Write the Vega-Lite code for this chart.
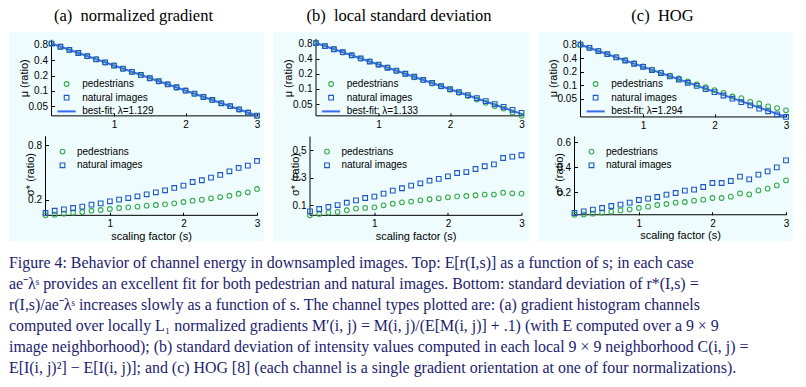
{
"$schema":"https://vega.github.io/schema/vega-lite/v6.json",
"padding":{"left":9,"top":7,"right":0,"bottom":0},
"background":"white",
"config":{
 "view":{"fill":"#eefcfd","stroke":null},
 "axis":{"domain":false,"grid":false,"ticks":true,"tickSize":-3,"tickColor":"black","tickWidth":1,"labelFont":"Liberation Sans","labelFontSize":10,"labelColor":"black","labelPadding":7,"labelOverlap":false,"labelFlush":false,"titleFont":"Liberation Sans","titleFontSize":11,"titleFontWeight":"normal","titleColor":"black","titleBaseline":"middle"},
 "axisX":{"labelPadding":6.5,"labelFlush":false},
 "legend":{"labelFont":"Liberation Sans","labelFontSize":10,"labelColor":"black","padding":0,"rowPadding":3.7,"symbolStrokeWidth":1.1,"symbolSize":22,"orient":"none"}
},
"datasets":{
"fit":[{"p":"a","s":0.125,"mu":0.842},{"p":"a","s":3,"mu":0.0328},{"p":"b","s":0.125,"mu":0.825},{"p":"b","s":3,"mu":0.0318},{"p":"c","s":0.125,"mu":0.8},{"p":"c","s":3,"mu":0.0196}],
"pts":[
{"p":"a","s":0.125,"series":"pedestrians","mu":0.845,"sigma":0.027},
{"p":"a","s":0.25,"series":"pedestrians","mu":0.735,"sigma":0.034},
{"p":"a","s":0.375,"series":"pedestrians","mu":0.632,"sigma":0.045},
{"p":"a","s":0.5,"series":"pedestrians","mu":0.555,"sigma":0.056},
{"p":"a","s":0.625,"series":"pedestrians","mu":0.476,"sigma":0.064},
{"p":"a","s":0.75,"series":"pedestrians","mu":0.418,"sigma":0.078},
{"p":"a","s":0.875,"series":"pedestrians","mu":0.358,"sigma":0.086},
{"p":"a","s":1,"series":"pedestrians","mu":0.316,"sigma":0.097},
{"p":"a","s":1.125,"series":"pedestrians","mu":0.27,"sigma":0.108},
{"p":"a","s":1.25,"series":"pedestrians","mu":0.239,"sigma":0.115},
{"p":"a","s":1.375,"series":"pedestrians","mu":0.203,"sigma":0.123},
{"p":"a","s":1.5,"series":"pedestrians","mu":0.18,"sigma":0.134},
{"p":"a","s":1.625,"series":"pedestrians","mu":0.153,"sigma":0.141},
{"p":"a","s":1.75,"series":"pedestrians","mu":0.136,"sigma":0.148},
{"p":"a","s":1.875,"series":"pedestrians","mu":0.116,"sigma":0.159},
{"p":"a","s":2,"series":"pedestrians","mu":0.102,"sigma":0.174},
{"p":"a","s":2.125,"series":"pedestrians","mu":0.0875,"sigma":0.189},
{"p":"a","s":2.25,"series":"pedestrians","mu":0.077,"sigma":0.2},
{"p":"a","s":2.375,"series":"pedestrians","mu":0.066,"sigma":0.215},
{"p":"a","s":2.5,"series":"pedestrians","mu":0.058,"sigma":0.229},
{"p":"a","s":2.625,"series":"pedestrians","mu":0.0505,"sigma":0.244},
{"p":"a","s":2.75,"series":"pedestrians","mu":0.0432,"sigma":0.266},
{"p":"a","s":2.875,"series":"pedestrians","mu":0.038,"sigma":0.281},
{"p":"a","s":3,"series":"pedestrians","mu":0.0326,"sigma":0.318},
{"p":"a","s":0.125,"series":"natural images","mu":0.842,"sigma":0.053},
{"p":"a","s":0.25,"series":"natural images","mu":0.73,"sigma":0.078},
{"p":"a","s":0.375,"series":"natural images","mu":0.636,"sigma":0.093},
{"p":"a","s":0.5,"series":"natural images","mu":0.551,"sigma":0.108},
{"p":"a","s":0.625,"series":"natural images","mu":0.48,"sigma":0.123},
{"p":"a","s":0.75,"series":"natural images","mu":0.415,"sigma":0.145},
{"p":"a","s":0.875,"series":"natural images","mu":0.362,"sigma":0.159},
{"p":"a","s":1,"series":"natural images","mu":0.313,"sigma":0.182},
{"p":"a","s":1.125,"series":"natural images","mu":0.273,"sigma":0.2},
{"p":"a","s":1.25,"series":"natural images","mu":0.236,"sigma":0.218},
{"p":"a","s":1.375,"series":"natural images","mu":0.206,"sigma":0.237},
{"p":"a","s":1.5,"series":"natural images","mu":0.177,"sigma":0.259},
{"p":"a","s":1.625,"series":"natural images","mu":0.156,"sigma":0.281},
{"p":"a","s":1.75,"series":"natural images","mu":0.134,"sigma":0.303},
{"p":"a","s":1.875,"series":"natural images","mu":0.118,"sigma":0.329},
{"p":"a","s":2,"series":"natural images","mu":0.101,"sigma":0.355},
{"p":"a","s":2.125,"series":"natural images","mu":0.0885,"sigma":0.395},
{"p":"a","s":2.25,"series":"natural images","mu":0.0762,"sigma":0.414},
{"p":"a","s":2.375,"series":"natural images","mu":0.0667,"sigma":0.443},
{"p":"a","s":2.5,"series":"natural images","mu":0.0574,"sigma":0.473},
{"p":"a","s":2.625,"series":"natural images","mu":0.0503,"sigma":0.513},
{"p":"a","s":2.75,"series":"natural images","mu":0.0438,"sigma":0.55},
{"p":"a","s":2.875,"series":"natural images","mu":0.0376,"sigma":0.576},
{"p":"a","s":3,"series":"natural images","mu":0.033,"sigma":0.627},
{"p":"b","s":0.125,"series":"pedestrians","mu":0.828,"sigma":0.027},
{"p":"b","s":0.25,"series":"pedestrians","mu":0.714,"sigma":0.037},
{"p":"b","s":0.375,"series":"pedestrians","mu":0.623,"sigma":0.047},
{"p":"b","s":0.5,"series":"pedestrians","mu":0.536,"sigma":0.052},
{"p":"b","s":0.625,"series":"pedestrians","mu":0.47,"sigma":0.064},
{"p":"b","s":0.75,"series":"pedestrians","mu":0.403,"sigma":0.076},
{"p":"b","s":0.875,"series":"pedestrians","mu":0.355,"sigma":0.081},
{"p":"b","s":1,"series":"pedestrians","mu":0.303,"sigma":0.085},
{"p":"b","s":1.125,"series":"pedestrians","mu":0.267,"sigma":0.1},
{"p":"b","s":1.25,"series":"pedestrians","mu":0.228,"sigma":0.112},
{"p":"b","s":1.375,"series":"pedestrians","mu":0.199,"sigma":0.122},
{"p":"b","s":1.5,"series":"pedestrians","mu":0.171,"sigma":0.127},
{"p":"b","s":1.625,"series":"pedestrians","mu":0.15,"sigma":0.136},
{"p":"b","s":1.75,"series":"pedestrians","mu":0.129,"sigma":0.144},
{"p":"b","s":1.875,"series":"pedestrians","mu":0.112,"sigma":0.151},
{"p":"b","s":2,"series":"pedestrians","mu":0.0965,"sigma":0.158},
{"p":"b","s":2.125,"series":"pedestrians","mu":0.0835,"sigma":0.165},
{"p":"b","s":2.25,"series":"pedestrians","mu":0.072,"sigma":0.168},
{"p":"b","s":2.375,"series":"pedestrians","mu":0.0615,"sigma":0.173},
{"p":"b","s":2.5,"series":"pedestrians","mu":0.0528,"sigma":0.178},
{"p":"b","s":2.625,"series":"pedestrians","mu":0.0455,"sigma":0.178},
{"p":"b","s":2.75,"series":"pedestrians","mu":0.0405,"sigma":0.192},
{"p":"b","s":2.875,"series":"pedestrians","mu":0.034,"sigma":0.187},
{"p":"b","s":3,"series":"pedestrians","mu":0.029,"sigma":0.185},
{"p":"b","s":0.125,"series":"natural images","mu":0.825,"sigma":0.056},
{"p":"b","s":0.25,"series":"natural images","mu":0.718,"sigma":0.073},
{"p":"b","s":0.375,"series":"natural images","mu":0.62,"sigma":0.088},
{"p":"b","s":0.5,"series":"natural images","mu":0.541,"sigma":0.102},
{"p":"b","s":0.625,"series":"natural images","mu":0.466,"sigma":0.119},
{"p":"b","s":0.75,"series":"natural images","mu":0.408,"sigma":0.136},
{"p":"b","s":0.875,"series":"natural images","mu":0.352,"sigma":0.153},
{"p":"b","s":1,"series":"natural images","mu":0.307,"sigma":0.163},
{"p":"b","s":1.125,"series":"natural images","mu":0.265,"sigma":0.185},
{"p":"b","s":1.25,"series":"natural images","mu":0.232,"sigma":0.207},
{"p":"b","s":1.375,"series":"natural images","mu":0.201,"sigma":0.224},
{"p":"b","s":1.5,"series":"natural images","mu":0.175,"sigma":0.243},
{"p":"b","s":1.625,"series":"natural images","mu":0.151,"sigma":0.26},
{"p":"b","s":1.75,"series":"natural images","mu":0.132,"sigma":0.279},
{"p":"b","s":1.875,"series":"natural images","mu":0.114,"sigma":0.292},
{"p":"b","s":2,"series":"natural images","mu":0.0995,"sigma":0.311},
{"p":"b","s":2.125,"series":"natural images","mu":0.0865,"sigma":0.335},
{"p":"b","s":2.25,"series":"natural images","mu":0.0752,"sigma":0.342},
{"p":"b","s":2.375,"series":"natural images","mu":0.0655,"sigma":0.364},
{"p":"b","s":2.5,"series":"natural images","mu":0.057,"sigma":0.384},
{"p":"b","s":2.625,"series":"natural images","mu":0.0498,"sigma":0.398},
{"p":"b","s":2.75,"series":"natural images","mu":0.044,"sigma":0.444},
{"p":"b","s":2.875,"series":"natural images","mu":0.0383,"sigma":0.454},
{"p":"b","s":3,"series":"natural images","mu":0.0332,"sigma":0.464},
{"p":"c","s":0.125,"series":"pedestrians","mu":0.8,"sigma":0.018},
{"p":"c","s":0.25,"series":"pedestrians","mu":0.682,"sigma":0.021},
{"p":"c","s":0.375,"series":"pedestrians","mu":0.582,"sigma":0.027},
{"p":"c","s":0.5,"series":"pedestrians","mu":0.495,"sigma":0.035},
{"p":"c","s":0.625,"series":"pedestrians","mu":0.423,"sigma":0.043},
{"p":"c","s":0.75,"series":"pedestrians","mu":0.36,"sigma":0.053},
{"p":"c","s":0.875,"series":"pedestrians","mu":0.306,"sigma":0.061},
{"p":"c","s":1,"series":"pedestrians","mu":0.262,"sigma":0.072},
{"p":"c","s":1.125,"series":"pedestrians","mu":0.223,"sigma":0.083},
{"p":"c","s":1.25,"series":"pedestrians","mu":0.191,"sigma":0.096},
{"p":"c","s":1.375,"series":"pedestrians","mu":0.164,"sigma":0.104},
{"p":"c","s":1.5,"series":"pedestrians","mu":0.141,"sigma":0.115},
{"p":"c","s":1.625,"series":"pedestrians","mu":0.121,"sigma":0.12},
{"p":"c","s":1.75,"series":"pedestrians","mu":0.104,"sigma":0.131},
{"p":"c","s":1.875,"series":"pedestrians","mu":0.09,"sigma":0.139},
{"p":"c","s":2,"series":"pedestrians","mu":0.078,"sigma":0.152},
{"p":"c","s":2.125,"series":"pedestrians","mu":0.0675,"sigma":0.152},
{"p":"c","s":2.25,"series":"pedestrians","mu":0.0562,"sigma":0.163},
{"p":"c","s":2.375,"series":"pedestrians","mu":0.0515,"sigma":0.189},
{"p":"c","s":2.5,"series":"pedestrians","mu":0.0425,"sigma":0.181},
{"p":"c","s":2.625,"series":"pedestrians","mu":0.0392,"sigma":0.213},
{"p":"c","s":2.75,"series":"pedestrians","mu":0.0338,"sigma":0.227},
{"p":"c","s":2.875,"series":"pedestrians","mu":0.031,"sigma":0.253},
{"p":"c","s":3,"series":"pedestrians","mu":0.0276,"sigma":0.293},
{"p":"c","s":0.125,"series":"natural images","mu":0.8,"sigma":0.032},
{"p":"c","s":0.25,"series":"natural images","mu":0.679,"sigma":0.045},
{"p":"c","s":0.375,"series":"natural images","mu":0.577,"sigma":0.059},
{"p":"c","s":0.5,"series":"natural images","mu":0.491,"sigma":0.072},
{"p":"c","s":0.625,"series":"natural images","mu":0.418,"sigma":0.088},
{"p":"c","s":0.75,"series":"natural images","mu":0.355,"sigma":0.099},
{"p":"c","s":0.875,"series":"natural images","mu":0.301,"sigma":0.115},
{"p":"c","s":1,"series":"natural images","mu":0.257,"sigma":0.136},
{"p":"c","s":1.125,"series":"natural images","mu":0.218,"sigma":0.147},
{"p":"c","s":1.25,"series":"natural images","mu":0.186,"sigma":0.16},
{"p":"c","s":1.375,"series":"natural images","mu":0.157,"sigma":0.179},
{"p":"c","s":1.5,"series":"natural images","mu":0.134,"sigma":0.192},
{"p":"c","s":1.625,"series":"natural images","mu":0.113,"sigma":0.211},
{"p":"c","s":1.75,"series":"natural images","mu":0.0965,"sigma":0.219},
{"p":"c","s":1.875,"series":"natural images","mu":0.082,"sigma":0.24},
{"p":"c","s":2,"series":"natural images","mu":0.07,"sigma":0.272},
{"p":"c","s":2.125,"series":"natural images","mu":0.059,"sigma":0.272},
{"p":"c","s":2.25,"series":"natural images","mu":0.05,"sigma":0.288},
{"p":"c","s":2.375,"series":"natural images","mu":0.0418,"sigma":0.323},
{"p":"c","s":2.5,"series":"natural images","mu":0.0355,"sigma":0.301},
{"p":"c","s":2.625,"series":"natural images","mu":0.03,"sigma":0.339},
{"p":"c","s":2.75,"series":"natural images","mu":0.0262,"sigma":0.365},
{"p":"c","s":2.875,"series":"natural images","mu":0.0224,"sigma":0.397},
{"p":"c","s":3,"series":"natural images","mu":0.0196,"sigma":0.453}
]},
"title":{"text":[
"Figure 4: Behavior of channel energy in downsampled images. Top: E[r(I,s)] as a function of s; in each case",
"ae⁻λˢ provides an excellent fit for both pedestrian and natural images. Bottom: standard deviation of r*(I,s) =",
"r(I,s)/ae⁻λˢ increases slowly as a function of s. The channel types plotted are: (a) gradient histogram channels",
"computed over locally L₁ normalized gradients M′(i, j) = M(i, j)/(E[M(i, j)] + .1) (with E computed over a 9 × 9",
"image neighborhood); (b) standard deviation of intensity values computed in each local 9 × 9 neighborhood C(i, j) =",
"E[I(i, j)²] − E[I(i, j)]; and (c) HOG [8] (each channel is a single gradient orientation at one of four normalizations)."
],"orient":"bottom","anchor":"start","frame":"group","font":"Liberation Serif","fontSize":15.9,"fontWeight":"normal","color":"#1c1c6e","lineHeight":21,"offset":14},
"spacing":9.5,
"resolve":{"scale":{"x":"independent","y":"independent","color":"independent","shape":"independent"},"legend":{"color":"independent","shape":"independent"}},
"hconcat":[
{"vconcat":[
 {"width":255,"height":99,
  "title":{"text":"(a)\u2002normalized gradient","font":"Liberation Serif","fontSize":16.5,"fontWeight":"normal","color":"black","offset":8,"anchor":"middle","dx":-3},
  "layer":[
   {"data":{"values":[{}]},"mark":{"type":"rule","color":"black","strokeWidth":1},
    "encoding":{"x":{"datum":0.125,"scale":{"domain":[-0.4696,3.0979],"nice":false,"zero":false},"axis":{"values":[1,2,3],"format":"d","title":null,"offset":-15.1,"labelFlush":false,"labelAlign":"center"}},
                "y":{"datum":0.0326,"scale":{"type":"log","domain":[0.01651,1.416],"nice":false},"axis":{"values":[0.05,0.1,0.2,0.4,0.8],"format":"~g","title":"μ (ratio)","offset":-42.5,"titleX":-27.5,"titleY":45.8}},
                "y2":{"datum":1}}},
   {"data":{"values":[{}]},"mark":{"type":"rule","color":"black","strokeWidth":1},
    "encoding":{"x":{"datum":0.125},"x2":{"datum":3},"y":{"datum":0.0326}}},
   {"data":{"name":"fit"},"transform":[{"filter":"datum.p == 'a'"}],"mark":{"type":"line","color":"#3b6cf0","strokeWidth":2},
    "encoding":{"x":{"field":"s","type":"quantitative"},"y":{"field":"mu","type":"quantitative"}}},
   {"data":{"name":"pts"},"transform":[{"filter":"datum.p == 'a'"}],"mark":{"type":"point","filled":false,"size":22,"strokeWidth":1.1,"opacity":1},
    "encoding":{"x":{"field":"s","type":"quantitative"},"y":{"field":"mu","type":"quantitative"},
     "color":{"field":"series","type":"nominal","scale":{"domain":["pedestrians","natural images","best-fit: λ=1.129"],"range":["#34a84a","#1f57c2","#3b6cf0"]},
       "legend":{"title":null,"orient":"none","legendX":52.6,"legendY":47,"labelOffset":10.6,"symbolSize":22}},
     "shape":{"field":"series","type":"nominal","scale":{"domain":["pedestrians","natural images","best-fit: λ=1.129"],"range":["circle","square","M-3.62,-0.2H3.62V0.2H-3.62Z"]}}}}
  ]},
 {"width":255,"height":110,
  "layer":[
   {"data":{"values":[{}]},"mark":{"type":"rule","color":"black","strokeWidth":1},
    "encoding":{"x":{"datum":0.125,"scale":{"domain":[-0.3712,3.0952],"nice":false,"zero":false},"axis":{"values":[1,2,3],"format":"d","title":"scaling factor (s)","offset":-25.7,"titleX":142,"titleY":21}},
                "y":{"datum":0.027,"scale":{"domain":[-0.2563,0.9578],"nice":false,"zero":false},"axis":{"values":[0.2,0.4,0.6,0.8],"format":"~g","title":"σ* (ratio)","offset":-36.5,"titleX":-15,"titleY":43}},
                "y2":{"datum":0.9}}},
   {"data":{"values":[{}]},"mark":{"type":"rule","color":"black","strokeWidth":1},
    "encoding":{"x":{"datum":0.125},"x2":{"datum":3},"y":{"datum":0.027}}},
   {"data":{"name":"pts"},"transform":[{"filter":"datum.p == 'a'"}],"mark":{"type":"point","filled":false,"size":22,"strokeWidth":1.1,"opacity":1},
    "encoding":{"x":{"field":"s","type":"quantitative"},"y":{"field":"sigma","type":"quantitative"},
     "color":{"field":"series","type":"nominal","scale":{"domain":["pedestrians","natural images"],"range":["#34a84a","#1f57c2"]},
       "legend":{"title":null,"orient":"none","legendX":48.5,"legendY":15.6,"labelOffset":9.5,"symbolSize":22}},
     "shape":{"field":"series","type":"nominal","scale":{"domain":["pedestrians","natural images"],"range":["circle","square"]}}}}
  ]}
 ],"spacing":0,
 "resolve":{"scale":{"x":"independent","y":"independent","color":"independent","shape":"independent"},"legend":{"color":"independent","shape":"independent"}}},
{"vconcat":[
 {"width":255,"height":99,
  "title":{"text":"(b)\u2002local standard deviation","font":"Liberation Serif","fontSize":16.5,"fontWeight":"normal","color":"black","offset":8,"anchor":"middle","dx":-2},
  "layer":[
   {"data":{"values":[{}]},"mark":{"type":"rule","color":"black","strokeWidth":1},
    "encoding":{"x":{"datum":0.125,"scale":{"domain":[-0.4696,3.0979],"nice":false,"zero":false},"axis":{"values":[1,2,3],"format":"d","title":null,"offset":-15.15,"labelFlush":false,"labelAlign":"center"}},
                "y":{"datum":0.029,"scale":{"type":"log","domain":[0.01445,1.37],"nice":false},"axis":{"values":[0.05,0.1,0.2,0.4,0.8],"format":"~g","title":"μ (ratio)","offset":-42.5,"titleX":-27.5,"titleY":45.8}},
                "y2":{"datum":1}}},
   {"data":{"values":[{}]},"mark":{"type":"rule","color":"black","strokeWidth":1},
    "encoding":{"x":{"datum":0.125},"x2":{"datum":3},"y":{"datum":0.029}}},
   {"data":{"name":"fit"},"transform":[{"filter":"datum.p == 'b'"}],"mark":{"type":"line","color":"#3b6cf0","strokeWidth":2},
    "encoding":{"x":{"field":"s","type":"quantitative"},"y":{"field":"mu","type":"quantitative"}}},
   {"data":{"name":"pts"},"transform":[{"filter":"datum.p == 'b'"}],"mark":{"type":"point","filled":false,"size":22,"strokeWidth":1.1,"opacity":1},
    "encoding":{"x":{"field":"s","type":"quantitative"},"y":{"field":"mu","type":"quantitative"},
     "color":{"field":"series","type":"nominal","scale":{"domain":["pedestrians","natural images","best-fit: λ=1.133"],"range":["#34a84a","#1f57c2","#3b6cf0"]},
       "legend":{"title":null,"orient":"none","legendX":52.6,"legendY":47,"labelOffset":10.6,"symbolSize":22}},
     "shape":{"field":"series","type":"nominal","scale":{"domain":["pedestrians","natural images","best-fit: λ=1.133"],"range":["circle","square","M-3.62,-0.2H3.62V0.2H-3.62Z"]}}}}
  ]},
 {"width":255,"height":110,
  "layer":[
   {"data":{"values":[{}]},"mark":{"type":"rule","color":"black","strokeWidth":1},
    "encoding":{"x":{"datum":0.125,"scale":{"domain":[-0.3712,3.0952],"nice":false,"zero":false},"axis":{"values":[1,2,3],"format":"d","title":"scaling factor (s)","offset":-25.7,"titleX":142,"titleY":21}},
                "y":{"datum":0.027,"scale":{"domain":[-0.1596,0.6404],"nice":false,"zero":false},"axis":{"values":[0.1,0.2,0.3,0.4,0.5],"format":"~g","title":"σ* (ratio)","offset":-36.5,"titleX":-15,"titleY":43}},
                "y2":{"datum":0.6}}},
   {"data":{"values":[{}]},"mark":{"type":"rule","color":"black","strokeWidth":1},
    "encoding":{"x":{"datum":0.125},"x2":{"datum":3},"y":{"datum":0.027}}},
   {"data":{"name":"pts"},"transform":[{"filter":"datum.p == 'b'"}],"mark":{"type":"point","filled":false,"size":22,"strokeWidth":1.1,"opacity":1},
    "encoding":{"x":{"field":"s","type":"quantitative"},"y":{"field":"sigma","type":"quantitative"},
     "color":{"field":"series","type":"nominal","scale":{"domain":["pedestrians","natural images"],"range":["#34a84a","#1f57c2"]},
       "legend":{"title":null,"orient":"none","legendX":48.5,"legendY":15.6,"labelOffset":9.5,"symbolSize":22}},
     "shape":{"field":"series","type":"nominal","scale":{"domain":["pedestrians","natural images"],"range":["circle","square"]}}}}
  ]}
 ],"spacing":0,
 "resolve":{"scale":{"x":"independent","y":"independent","color":"independent","shape":"independent"},"legend":{"color":"independent","shape":"independent"}}},
{"vconcat":[
 {"width":255,"height":99,
  "title":{"text":"(c)\u2002HOG","font":"Liberation Serif","fontSize":16.5,"fontWeight":"normal","color":"black","offset":8,"anchor":"middle","dx":-3},
  "layer":[
   {"data":{"values":[{}]},"mark":{"type":"rule","color":"black","strokeWidth":1},
    "encoding":{"x":{"datum":0.125,"scale":{"domain":[-0.4696,3.0979],"nice":false,"zero":false},"axis":{"values":[1,2,3],"format":"d","title":null,"offset":-14.1,"labelFlush":false,"labelAlign":"center"}},
                "y":{"datum":0.0196,"scale":{"type":"log","domain":[0.00953,1.535],"nice":false},"axis":{"values":[0.05,0.1,0.2,0.4,0.8],"format":"~g","title":"μ (ratio)","offset":-42.5,"titleX":-27.5,"titleY":45.8}},
                "y2":{"datum":1}}},
   {"data":{"values":[{}]},"mark":{"type":"rule","color":"black","strokeWidth":1},
    "encoding":{"x":{"datum":0.125},"x2":{"datum":3},"y":{"datum":0.0196}}},
   {"data":{"name":"fit"},"transform":[{"filter":"datum.p == 'c'"}],"mark":{"type":"line","color":"#3b6cf0","strokeWidth":2},
    "encoding":{"x":{"field":"s","type":"quantitative"},"y":{"field":"mu","type":"quantitative"}}},
   {"data":{"name":"pts"},"transform":[{"filter":"datum.p == 'c'"}],"mark":{"type":"point","filled":false,"size":22,"strokeWidth":1.1,"opacity":1},
    "encoding":{"x":{"field":"s","type":"quantitative"},"y":{"field":"mu","type":"quantitative"},
     "color":{"field":"series","type":"nominal","scale":{"domain":["pedestrians","natural images","best-fit: λ=1.294"],"range":["#34a84a","#1f57c2","#3b6cf0"]},
       "legend":{"title":null,"orient":"none","legendX":52.6,"legendY":47,"labelOffset":10.6,"symbolSize":22}},
     "shape":{"field":"series","type":"nominal","scale":{"domain":["pedestrians","natural images","best-fit: λ=1.294"],"range":["circle","square","M-3.62,-0.2H3.62V0.2H-3.62Z"]}}}}
  ]},
 {"width":255,"height":110,
  "layer":[
   {"data":{"values":[{}]},"mark":{"type":"rule","color":"black","strokeWidth":1},
    "encoding":{"x":{"datum":0.125,"scale":{"domain":[-0.3712,3.0952],"nice":false,"zero":false},"axis":{"values":[1,2,3],"format":"d","title":"scaling factor (s)","offset":-26.25,"titleX":142,"titleY":21}},
                "y":{"datum":0.018,"scale":{"domain":[-0.192,0.688],"nice":false,"zero":false},"axis":{"values":[0.2,0.4,0.6],"format":"~g","title":"σ* (ratio)","offset":-36.5,"titleX":-15,"titleY":43}},
                "y2":{"datum":0.645}}},
   {"data":{"values":[{}]},"mark":{"type":"rule","color":"black","strokeWidth":1},
    "encoding":{"x":{"datum":0.125},"x2":{"datum":3},"y":{"datum":0.018}}},
   {"data":{"name":"pts"},"transform":[{"filter":"datum.p == 'c'"}],"mark":{"type":"point","filled":false,"size":22,"strokeWidth":1.1,"opacity":1},
    "encoding":{"x":{"field":"s","type":"quantitative"},"y":{"field":"sigma","type":"quantitative"},
     "color":{"field":"series","type":"nominal","scale":{"domain":["pedestrians","natural images"],"range":["#34a84a","#1f57c2"]},
       "legend":{"title":null,"orient":"none","legendX":48.5,"legendY":15.6,"labelOffset":9.5,"symbolSize":22}},
     "shape":{"field":"series","type":"nominal","scale":{"domain":["pedestrians","natural images"],"range":["circle","square"]}}}}
  ]}
 ],"spacing":0,
 "resolve":{"scale":{"x":"independent","y":"independent","color":"independent","shape":"independent"},"legend":{"color":"independent","shape":"independent"}}}
]
}
